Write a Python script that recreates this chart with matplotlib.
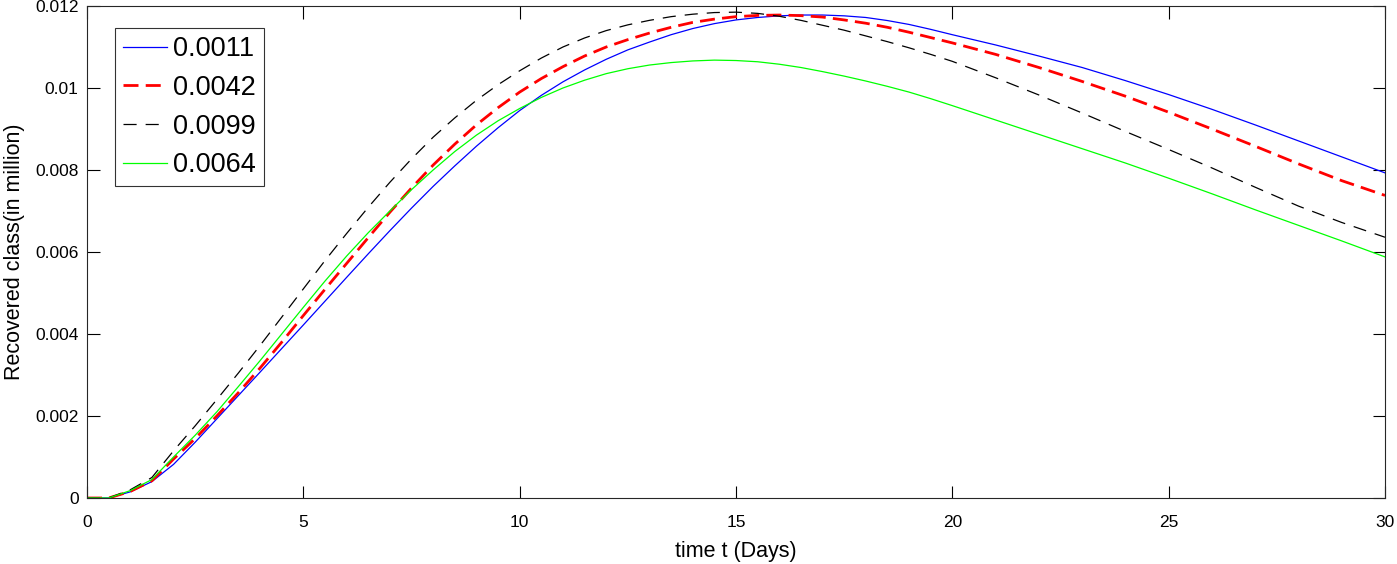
import matplotlib
matplotlib.use("Agg")
import matplotlib.pyplot as plt
import numpy as np

plt.rcParams['font.family'] = ['Liberation Sans', 'DejaVu Sans']

t = [0, 0.5, 1, 1.5, 2, 2.5, 3, 3.5, 4, 4.5, 5, 5.5, 6, 6.5, 7, 7.5, 8, 8.5, 9, 9.5,
     10, 10.5, 11, 11.5, 12, 12.5, 13, 13.5, 14, 14.5, 15, 15.5, 16, 16.5, 17, 17.5,
     18, 18.5, 19, 19.5, 20, 21, 22, 23, 24, 25, 26, 27, 28, 29, 30]

# values in units of 1e-3 million
r_0011 = [0, 0, 0.15, 0.40, 0.82, 1.36, 1.93, 2.50, 3.07, 3.645, 4.22, 4.80, 5.38, 5.955,
          6.52, 7.07, 7.60, 8.10, 8.58, 9.03, 9.45, 9.82, 10.15, 10.44, 10.70, 10.93,
          11.12, 11.30, 11.45, 11.57, 11.66, 11.72, 11.76, 11.78, 11.78, 11.76, 11.72,
          11.645, 11.55, 11.43, 11.30, 11.05, 10.78, 10.50, 10.18, 9.84, 9.48, 9.10,
          8.71, 8.32, 7.93]
r_0042 = [0, 0, 0.16, 0.42, 0.95, 1.45, 2.00, 2.57, 3.17, 3.80, 4.45, 5.09, 5.72, 6.35,
          6.97, 7.56, 8.12, 8.63, 9.10, 9.52, 9.90, 10.23, 10.52, 10.78, 11.00, 11.18,
          11.34, 11.48, 11.60, 11.68, 11.74, 11.77, 11.78, 11.765, 11.73, 11.66, 11.58,
          11.48, 11.36, 11.23, 11.10, 10.82, 10.50, 10.16, 9.80, 9.41, 9.00, 8.58, 8.15,
          7.74, 7.38]
r_0099 = [0, 0, 0.20, 0.50, 1.15, 1.76, 2.40, 3.05, 3.72, 4.41, 5.10, 5.79, 6.45, 7.09,
          7.70, 8.27, 8.80, 9.27, 9.70, 10.08, 10.42, 10.73, 11.00, 11.22, 11.40, 11.54,
          11.65, 11.74, 11.80, 11.84, 11.85, 11.82, 11.75, 11.65, 11.53, 11.41, 11.27,
          11.13, 10.98, 10.82, 10.65, 10.25, 9.83, 9.39, 8.94, 8.50, 8.05, 7.58, 7.12,
          6.72, 6.36]
r_0064 = [0, 0, 0.18, 0.45, 1.00, 1.53, 2.10, 2.72, 3.35, 4.00, 4.65, 5.29, 5.90, 6.47,
          7.00, 7.52, 8.00, 8.45, 8.85, 9.20, 9.50, 9.77, 10.00, 10.19, 10.35, 10.47,
          10.56, 10.62, 10.66, 10.68, 10.67, 10.64, 10.58, 10.50, 10.40, 10.29, 10.17,
          10.04, 9.90, 9.74, 9.57, 9.22, 8.87, 8.52, 8.17, 7.80, 7.42, 7.03, 6.65, 6.27,
          5.88]

labels = ['0.0011', '0.0042', '0.0099', '0.0064']
xticks = [0, 5, 10, 15, 20, 25, 30]
yticks = [0, 0.002, 0.004, 0.006, 0.008, 0.01, 0.012]
yticklabels = ['0', '0.002', '0.004', '0.006', '0.008', '0.01', '0.012']

fig = plt.figure(figsize=(13.97, 5.64), dpi=100)
ax = fig.add_axes([87/1397, 1-498/564, 1298/1397, 492/564])

sc = 1e-3
ax.plot(t, np.array(r_0011)*sc, color='#0000ff', lw=0.9, label=labels[0])
ax.plot(t, np.array(r_0042)*sc, color='#ff0000', lw=2.0, dashes=(5.4, 2.6), label=labels[1])
ax.plot(t, np.array(r_0099)*sc, color='black', lw=0.9, dashes=(10.5, 7.2), label=labels[2])
ax.plot(t, np.array(r_0064)*sc, color='#00ff00', lw=0.9, label=labels[3])

ax.set_xlim(0, 30)
ax.set_ylim(0, 0.012)
ax.set_xticks(xticks)
ax.set_xticklabels([str(x) for x in xticks])
ax.set_yticks(yticks)
ax.set_yticklabels(yticklabels)
ax.tick_params(direction='in', length=9, width=0.8, top=True, right=True,
               labelsize=12.5, colors='black', pad=6)
ax.tick_params(axis='x', pad=12)
for s in ax.spines.values():
    s.set_color('#262626')
    s.set_linewidth(0.8)

ax.set_xlabel('time t (Days)', fontsize=15.5, labelpad=8)
ax.set_ylabel('Recovered class(in million)', fontsize=15.5, labelpad=7)

leg = ax.legend(loc='upper left', bbox_to_anchor=(28/1298, 1-22/492), borderaxespad=0,
                fontsize=19.5, frameon=True, fancybox=False, edgecolor='black',
                handlelength=1.62, handletextpad=0.22, borderpad=0.3,
                labelspacing=0.47)
leg.get_frame().set_linewidth(0.8)

fig.savefig('out.png', dpi=100)
